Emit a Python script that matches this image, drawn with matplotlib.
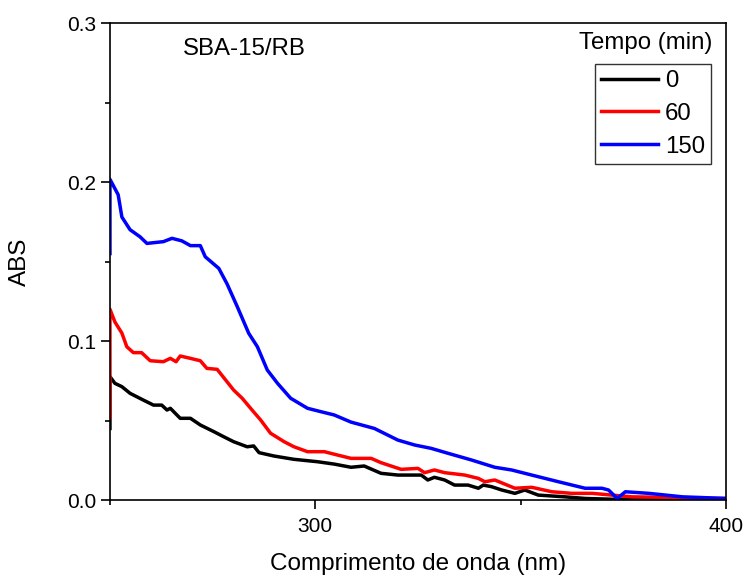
"""
SBA-15/RB 吸收光谱随时间变化图
"""

import matplotlib
matplotlib.use("Agg")
import matplotlib.pyplot as plt
from matplotlib.ticker import MultipleLocator

plt.rcParams["font.family"] = ["Liberation Sans", "DejaVu Sans"]

# 波长 (nm) 与吸光度, 三个时间点
wl_0 = [250, 250, 251.2, 252.9, 254.9, 258.1, 260.6, 262.6, 263.9, 264.7, 267.1, 269.6,
        272.0, 275.3, 277.7, 280.1, 283.4, 285.0, 286.3, 289.9, 294.8, 300.5, 304.6,
        308.7, 311.9, 316.0, 320.1, 325.8, 327.4, 329.0, 331.5, 333.9, 337.2, 339.7,
        340.9, 342.9, 345.4, 348.6, 351.0, 354.3, 360.8, 365.7, 372.2, 380.0, 390.0, 400.0]
abs_0 = [0.045, 0.0776, 0.0734, 0.0713, 0.0671, 0.0629, 0.0597, 0.0597, 0.0566, 0.0577,
         0.0514, 0.0514, 0.0472, 0.043, 0.0398, 0.0367, 0.0335, 0.034, 0.0298, 0.0277,
         0.0256, 0.0241, 0.0226, 0.0206, 0.0214, 0.0168, 0.0157, 0.0157, 0.0126, 0.0143,
         0.0126, 0.0094, 0.0094, 0.0074, 0.0094, 0.0084, 0.0063, 0.0042, 0.0063, 0.0031,
         0.002, 0.001, 0.0005, 0.0005, 0.0003, 0.0003]

wl_60 = [250, 250, 251.2, 252.9, 254.1, 255.7, 257.7, 259.8, 263.0, 264.7, 266.1, 267.1,
         269.6, 272.0, 273.6, 276.1, 280.1, 282.2, 284.6, 286.7, 289.1, 292.4, 294.8,
         298.1, 302.2, 305.4, 308.7, 313.6, 316.0, 320.9, 325.0, 326.6, 329.0, 331.5,
         336.4, 339.7, 341.3, 343.7, 348.6, 352.7, 357.6, 362.5, 367.4, 372.2, 377.1,
         385.3, 393.4, 400.0]
abs_60 = [0.052, 0.120, 0.112, 0.105, 0.0964, 0.0927, 0.0927, 0.0876, 0.087, 0.0891,
          0.087, 0.0906, 0.0891, 0.0876, 0.0828, 0.0822, 0.0692, 0.064, 0.0566, 0.0503,
          0.042, 0.0367, 0.0335, 0.0304, 0.0304, 0.0283, 0.0262, 0.0262, 0.0235, 0.0193,
          0.0199, 0.0172, 0.0189, 0.0172, 0.0157, 0.0136, 0.0115, 0.0126, 0.0074, 0.008,
          0.0052, 0.0042, 0.0042, 0.0031, 0.002, 0.0017, 0.001, 0.001]

wl_150 = [250, 250, 252.0, 252.9, 254.9, 257.3, 259.0, 263.0, 265.1, 267.5, 269.6, 272.0,
          273.2, 276.5, 278.5, 281.0, 283.8, 285.9, 288.3, 290.8, 294.0, 298.1, 301.3,
          304.6, 308.7, 314.4, 320.1, 324.2, 328.2, 332.3, 338.0, 343.7, 347.8, 352.7,
          359.2, 365.7, 369.8, 371.4, 373.5, 375.5, 381.2, 389.4, 400.0]
abs_150 = [0.155, 0.2017, 0.192, 0.178, 0.170, 0.1656, 0.1614, 0.1625, 0.1646, 0.163,
           0.160, 0.160, 0.153, 0.1457, 0.136, 0.1216, 0.1048, 0.0964, 0.0818, 0.0734,
           0.064, 0.0577, 0.0556, 0.0535, 0.049, 0.045, 0.0377, 0.0346, 0.0325, 0.0294,
           0.0252, 0.0206, 0.0189, 0.0157, 0.0115, 0.0074, 0.0074, 0.0063, 0.001, 0.0052,
           0.0042, 0.002, 0.001]

series = [
    ("0", wl_0, abs_0, "black"),
    ("60", wl_60, abs_60, "red"),
    ("150", wl_150, abs_150, "blue"),
]

fig = plt.figure(figsize=(7.44, 5.76), dpi=100)
ax = fig.add_axes([0.1478, 0.1319, 0.828, 0.8281])

for label, x, y, color in series:
    ax.plot(x, y, color=color, linewidth=2.5, label=label)

ax.set_xlim(250, 400)
ax.set_ylim(0, 0.3)
ax.xaxis.set_major_locator(MultipleLocator(100))
ax.xaxis.set_minor_locator(MultipleLocator(50))
ax.yaxis.set_major_locator(MultipleLocator(0.1))
ax.yaxis.set_minor_locator(MultipleLocator(0.05))
ax.xaxis.set_major_formatter(plt.FuncFormatter(lambda v, p: f"{v:.0f}"))
ax.yaxis.set_major_formatter(plt.FuncFormatter(lambda v, p: f"{v:.1f}"))

ax.tick_params(which="both", direction="out", top=False, right=False,
               labelsize=15, width=1.2)
ax.tick_params(which="major", length=6.5)
ax.tick_params(axis="y", which="major", pad=3.5)
ax.tick_params(axis="x", which="major", pad=6)
ax.tick_params(which="minor", length=3.5)
for spine in ax.spines.values():
    spine.set_linewidth(1.2)

ax.set_xlabel("Comprimento de onda (nm)", fontsize=17.5, labelpad=12)
ax.set_ylabel("ABS", fontsize=17.5, labelpad=26)

ax.text(0.2175, 0.9465, "SBA-15/RB", transform=ax.transAxes, fontsize=17.3,
        ha="center", va="center")
ax.text(0.87, 0.958, "Tempo (min)", transform=ax.transAxes, fontsize=17.3,
        ha="center", va="center")

leg = ax.legend(loc="upper right", bbox_to_anchor=(0.9756, 0.914), fontsize=17.3,
                frameon=True, fancybox=False, handlelength=2.37, handletextpad=0.3,
                borderpad=0.25, labelspacing=0.45, borderaxespad=0)
leg.get_frame().set_edgecolor("black")
leg.get_frame().set_linewidth(1.0)

fig.savefig("out.png", dpi=100)
